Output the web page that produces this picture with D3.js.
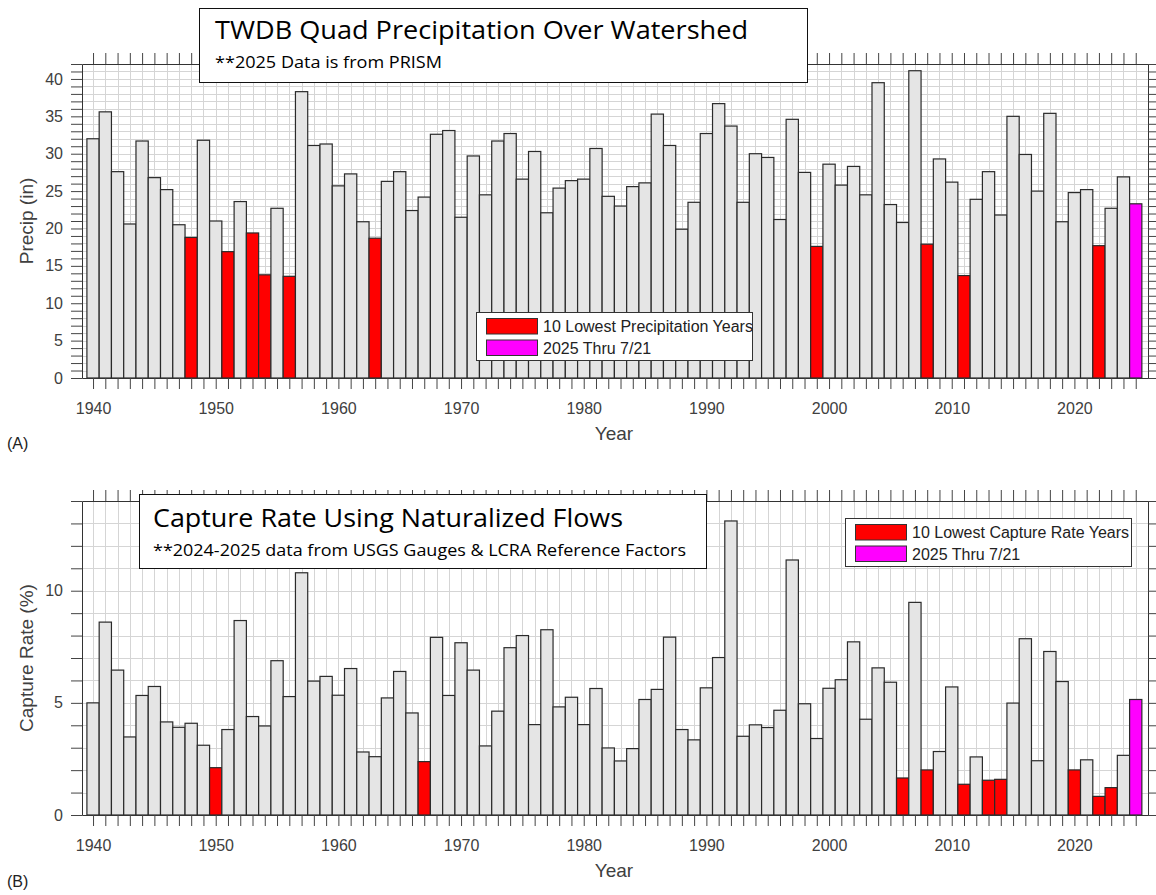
<!DOCTYPE html>
<html>
<head>
<meta charset="utf-8">
<title>TWDB Quad Precipitation / Capture Rate</title>
<script src="https://cdn.jsdelivr.net/npm/d3@7"></script>
<style>
  body { margin: 0; background: #fff; }
  svg text { font-family: "Liberation Sans", Arial, sans-serif; }
  .title text { font-family: "Open Sans", "Noto Sans", sans-serif; fill: #000; }
</style>
</head>
<body>
<div id="chart"></div>
<script>
// categories
var years = d3.range(1940, 2026);
var decadeLabels = [1940, 1950, 1960, 1970, 1980, 1990, 2000, 2010, 2020];
var partialYear = 2025;

// (A) precipitation, inches
var precipValues = [
  32.0, 35.6, 27.6, 20.6, 31.7, 26.8, 25.2, 20.5, 18.8, 31.8,
  21.0, 16.9, 23.6, 19.4, 13.8, 22.7, 13.6, 38.3, 31.1, 31.3,
  25.7, 27.3, 20.9, 18.7, 26.3, 27.6, 22.4, 24.2, 32.6, 33.1,
  21.5, 29.7, 24.5, 31.7, 32.7, 26.6, 30.3, 22.1, 25.4, 26.4,
  26.6, 30.7, 24.3, 23.0, 25.6, 26.1, 35.3, 31.1, 19.9, 23.5,
  32.7, 36.7, 33.7, 23.5, 30.0, 29.5, 21.2, 34.6, 27.5, 17.6,
  28.6, 25.8, 28.3, 24.5, 39.5, 23.2, 20.8, 41.1, 17.9, 29.3,
  26.2, 13.7, 23.9, 27.6, 21.8, 35.0, 29.9, 25.0, 35.4, 20.9,
  24.8, 25.2, 17.7, 22.7, 26.9, 23.3
];
var precipLowYears = [1948, 1951, 1953, 1954, 1956, 1963, 1999, 2008, 2011, 2022];
var precipTickLabels = [0, 5, 10, 15, 20, 25, 30, 35, 40];

// (B) capture rate, percent
var captureValues = [
  5.0, 8.6, 6.46, 3.48, 5.33, 5.73, 4.15, 3.91, 4.09, 3.11,
  2.11, 3.81, 8.67, 4.39, 3.97, 6.88, 5.28, 10.8, 5.97, 6.18,
  5.34, 6.53, 2.81, 2.6, 5.22, 6.4, 4.55, 2.38, 7.92, 5.33,
  7.68, 6.46, 3.08, 4.63, 7.46, 8.0, 4.03, 8.26, 4.82, 5.25,
  4.03, 5.64, 2.99, 2.41, 2.96, 5.15, 5.6, 7.93, 3.81, 3.35,
  5.67, 7.02, 13.11, 3.51, 4.02, 3.9, 4.67, 11.37, 4.96, 3.41,
  5.65, 6.03, 7.72, 4.27, 6.56, 5.92, 1.65, 9.48, 2.01, 2.83,
  5.71, 1.37, 2.59, 1.55, 1.59, 4.99, 7.86, 2.42, 7.29, 5.95,
  2.01, 2.46, 0.83, 1.22, 2.66, 5.15
];
var captureLowYears = [1950, 1967, 2006, 2008, 2011, 2013, 2014, 2020, 2022, 2023];
var captureTickLabels = [0, 5, 10];

var svg = d3.select('#chart').append('svg')
  .attr('width', 1156)
  .attr('height', 895);

function drawPanel(p) {
  var left = 82, right = 1148;
  var x = d3.scaleLinear().domain([1939.1, 2026]).range([left, right]);
  var y = d3.scaleLinear().domain([0, p.yMax]).range([p.bottom, p.top]);
  var units = d3.range(0, p.yMax + 1);
  var g = svg.append('g');

  // grid
  g.append('rect').attr('x', left).attr('y', p.top)
    .attr('width', right - left).attr('height', p.bottom - p.top).attr('fill', '#fff');
  g.append('g').selectAll('line').data(years).enter().append('line')
    .attr('x1', function(d) { return Math.round(x(d)) + 0.5; })
    .attr('x2', function(d) { return Math.round(x(d)) + 0.5; })
    .attr('y1', p.top).attr('y2', p.bottom)
    .attr('stroke', '#d5d5d5');
  g.append('g').selectAll('line').data(units).enter().append('line')
    .attr('x1', left).attr('x2', right)
    .attr('y1', function(d) { return Math.round(y(d)) + 0.5; })
    .attr('y2', function(d) { return Math.round(y(d)) + 0.5; })
    .attr('stroke', '#d5d5d5');

  // bars
  var bw = x(1) - x(0);
  g.append('g').selectAll('rect').data(p.values).enter().append('rect')
    .attr('x', function(d, i) { return x(years[i] - 0.5); })
    .attr('width', bw)
    .attr('y', function(d) { return y(d); })
    .attr('height', function(d) { return p.bottom - y(d); })
    .attr('fill', function(d, i) {
      if (years[i] === partialYear) return '#ff00ff';
      if (p.lowYears.indexOf(years[i]) >= 0) return '#ff0000';
      return '#e5e5e5';
    })
    .attr('stroke', '#2a2a2a')
    .attr('stroke-width', 1.2);

  // axes
  var ax = [];
  ax.push(g.append('g').attr('transform', 'translate(0,' + p.bottom + ')')
    .call(d3.axisBottom(x).tickValues(years).tickSize(11).tickSizeOuter(0).tickPadding(14)
      .tickFormat(function(d) { return decadeLabels.indexOf(d) >= 0 ? d : ''; })));
  ax.push(g.append('g').attr('transform', 'translate(0,' + p.top + ')')
    .call(d3.axisTop(x).tickValues(years).tickSize(11).tickSizeOuter(0).tickFormat('')));
  ax.push(g.append('g').attr('transform', 'translate(' + left + ',0)')
    .call(d3.axisLeft(y).tickValues(units).tickSize(11).tickSizeOuter(0).tickPadding(8)
      .tickFormat(function(d) { return p.tickLabels.indexOf(d) >= 0 ? d : ''; })));
  ax.push(g.append('g').attr('transform', 'translate(' + right + ',0)')
    .call(d3.axisRight(y).tickValues(units).tickSize(11).tickSizeOuter(0).tickFormat('')));
  ax.forEach(function(a) {
    a.select('.domain').attr('stroke', '#333');
    a.selectAll('.tick line').attr('stroke', '#444');
    a.selectAll('.tick text').attr('fill', '#404040').style('font-size', '16px');
  });

  // axis titles
  g.append('text').attr('x', 614).attr('y', p.bottom + 62)
    .attr('text-anchor', 'middle').attr('fill', '#404040')
    .style('font-size', '19px').text('Year');
  g.append('text')
    .attr('transform', 'translate(33,' + (p.top + p.bottom) / 2 + ') rotate(-90)')
    .attr('text-anchor', 'middle').attr('fill', '#404040')
    .style('font-size', '19px').text(p.yLabel);
  g.append('text').attr('x', 7).attr('y', p.tagY)
    .attr('fill', '#222').style('font-size', '16px').text(p.tag);

  // title box
  var t = g.append('g').attr('class', 'title');
  t.append('rect').attr('x', p.titleBox[0] + 0.5).attr('y', p.titleBox[1] + 0.5)
    .attr('width', p.titleBox[2]).attr('height', p.titleBox[3])
    .attr('fill', '#fff').attr('stroke', '#111');
  t.append('text').attr('x', p.titleBox[0] + p.titleX).attr('y', p.titleBox[1] + p.titleBase[0])
    .style('font-size', '25px')
    .attr('textLength', p.titleLen[0]).attr('lengthAdjust', 'spacingAndGlyphs')
    .text(p.title);
  t.append('text').attr('x', p.titleBox[0] + p.titleX).attr('y', p.titleBox[1] + p.titleBase[1])
    .style('font-size', '17px')
    .attr('textLength', p.titleLen[1]).attr('lengthAdjust', 'spacingAndGlyphs')
    .text(p.subtitle);

  // legend
  var lg = g.append('g').attr('transform', 'translate(' + p.legend[0] + ',' + p.legend[1] + ')');
  lg.append('rect').attr('x', 0.5).attr('y', 0.5)
    .attr('width', p.legend[2]).attr('height', 48)
    .attr('fill', '#fff').attr('stroke', '#333');
  var items = [{ c: '#ff0000', t: p.legendText }, { c: '#ff00ff', t: partialYear + ' Thru 7/21' }];
  items.forEach(function(it, i) {
    lg.append('rect').attr('x', 10.5).attr('y', 6.5 + i * 21.5)
      .attr('width', 51).attr('height', 15.5)
      .attr('fill', it.c).attr('stroke', '#333');
    lg.append('text').attr('x', 67).attr('y', 20 + i * 21.5)
      .attr('fill', '#222').style('font-size', '16px').text(it.t);
  });
}

drawPanel({
  top: 64, bottom: 378, yMax: 42,
  values: precipValues, lowYears: precipLowYears, tickLabels: precipTickLabels,
  yLabel: 'Precip (in)', tag: '(A)', tagY: 449,
  titleBox: [199, 8, 608, 74], titleX: 16, titleBase: [31, 60], titleLen: [533, 227],
  title: 'TWDB Quad Precipitation Over Watershed',
  subtitle: '**2025 Data is from PRISM',
  legend: [476, 312, 276], legendText: '10 Lowest Precipitation Years'
});

drawPanel({
  top: 501, bottom: 815, yMax: 14,
  values: captureValues, lowYears: captureLowYears, tickLabels: captureTickLabels,
  yLabel: 'Capture Rate (%)', tag: '(B)', tagY: 887,
  titleBox: [139, 494, 567, 74], titleX: 14, titleBase: [33, 62], titleLen: [470, 533],
  title: 'Capture Rate Using Naturalized Flows',
  subtitle: '**2024-2025 data from USGS Gauges & LCRA Reference Factors',
  legend: [845, 518, 286], legendText: '10 Lowest Capture Rate Years'
});
</script>
</body>
</html>
